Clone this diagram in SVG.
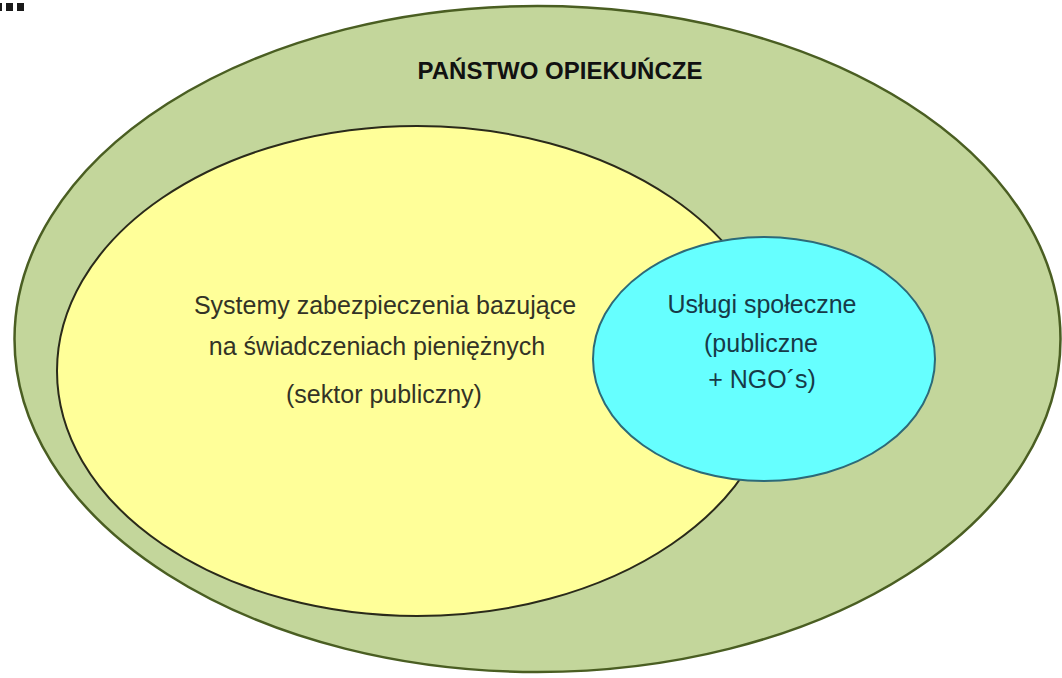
<svg xmlns="http://www.w3.org/2000/svg" width="1062" height="678" viewBox="0 0 1062 678">
  <style>
    .t { font-family: "Liberation Sans", Arial, sans-serif; text-anchor: middle; }
    .title { font-size: 24px; font-weight: bold; fill: #111; }
    .y { font-size: 25px; fill: #333326; }
    .c { font-size: 25px; fill: #173a48; }
  </style>
  <rect width="1062" height="678" fill="#ffffff"/>
  <g id="marks" fill="#1a1a1a">
    <rect x="0" y="3" width="2" height="8"/>
    <rect x="6" y="3" width="7" height="8"/>
    <rect x="17" y="3" width="7" height="8"/>
  </g>
  <g id="welfare-state">
    <ellipse cx="537.5" cy="339" rx="523" ry="333" fill="#c3d69b" stroke="#4a5e22" stroke-width="2.5"/>
    <text class="t title" x="560" y="79">PAŃSTWO OPIEKUŃCZE</text>
  </g>
  <g id="cash-benefits">
    <ellipse cx="417" cy="371" rx="360" ry="245" fill="#ffff99" stroke="#2a2a1a" stroke-width="2"/>
    <text class="t y" x="385" y="314">Systemy zabezpieczenia bazujące</text>
    <text class="t y" x="377" y="355">na świadczeniach pieniężnych</text>
    <text class="t y" x="384" y="403">(sektor publiczny)</text>
  </g>
  <g id="social-services">
    <ellipse cx="764" cy="359" rx="171" ry="122" fill="#66ffff" stroke="#2d6a78" stroke-width="2"/>
    <text class="t c" x="762" y="313">Usługi społeczne</text>
    <text class="t c" x="761" y="352">(publiczne</text>
    <text class="t c" x="762" y="388">+ NGO´s)</text>
  </g>
  <g id="connectors"/>
</svg>
